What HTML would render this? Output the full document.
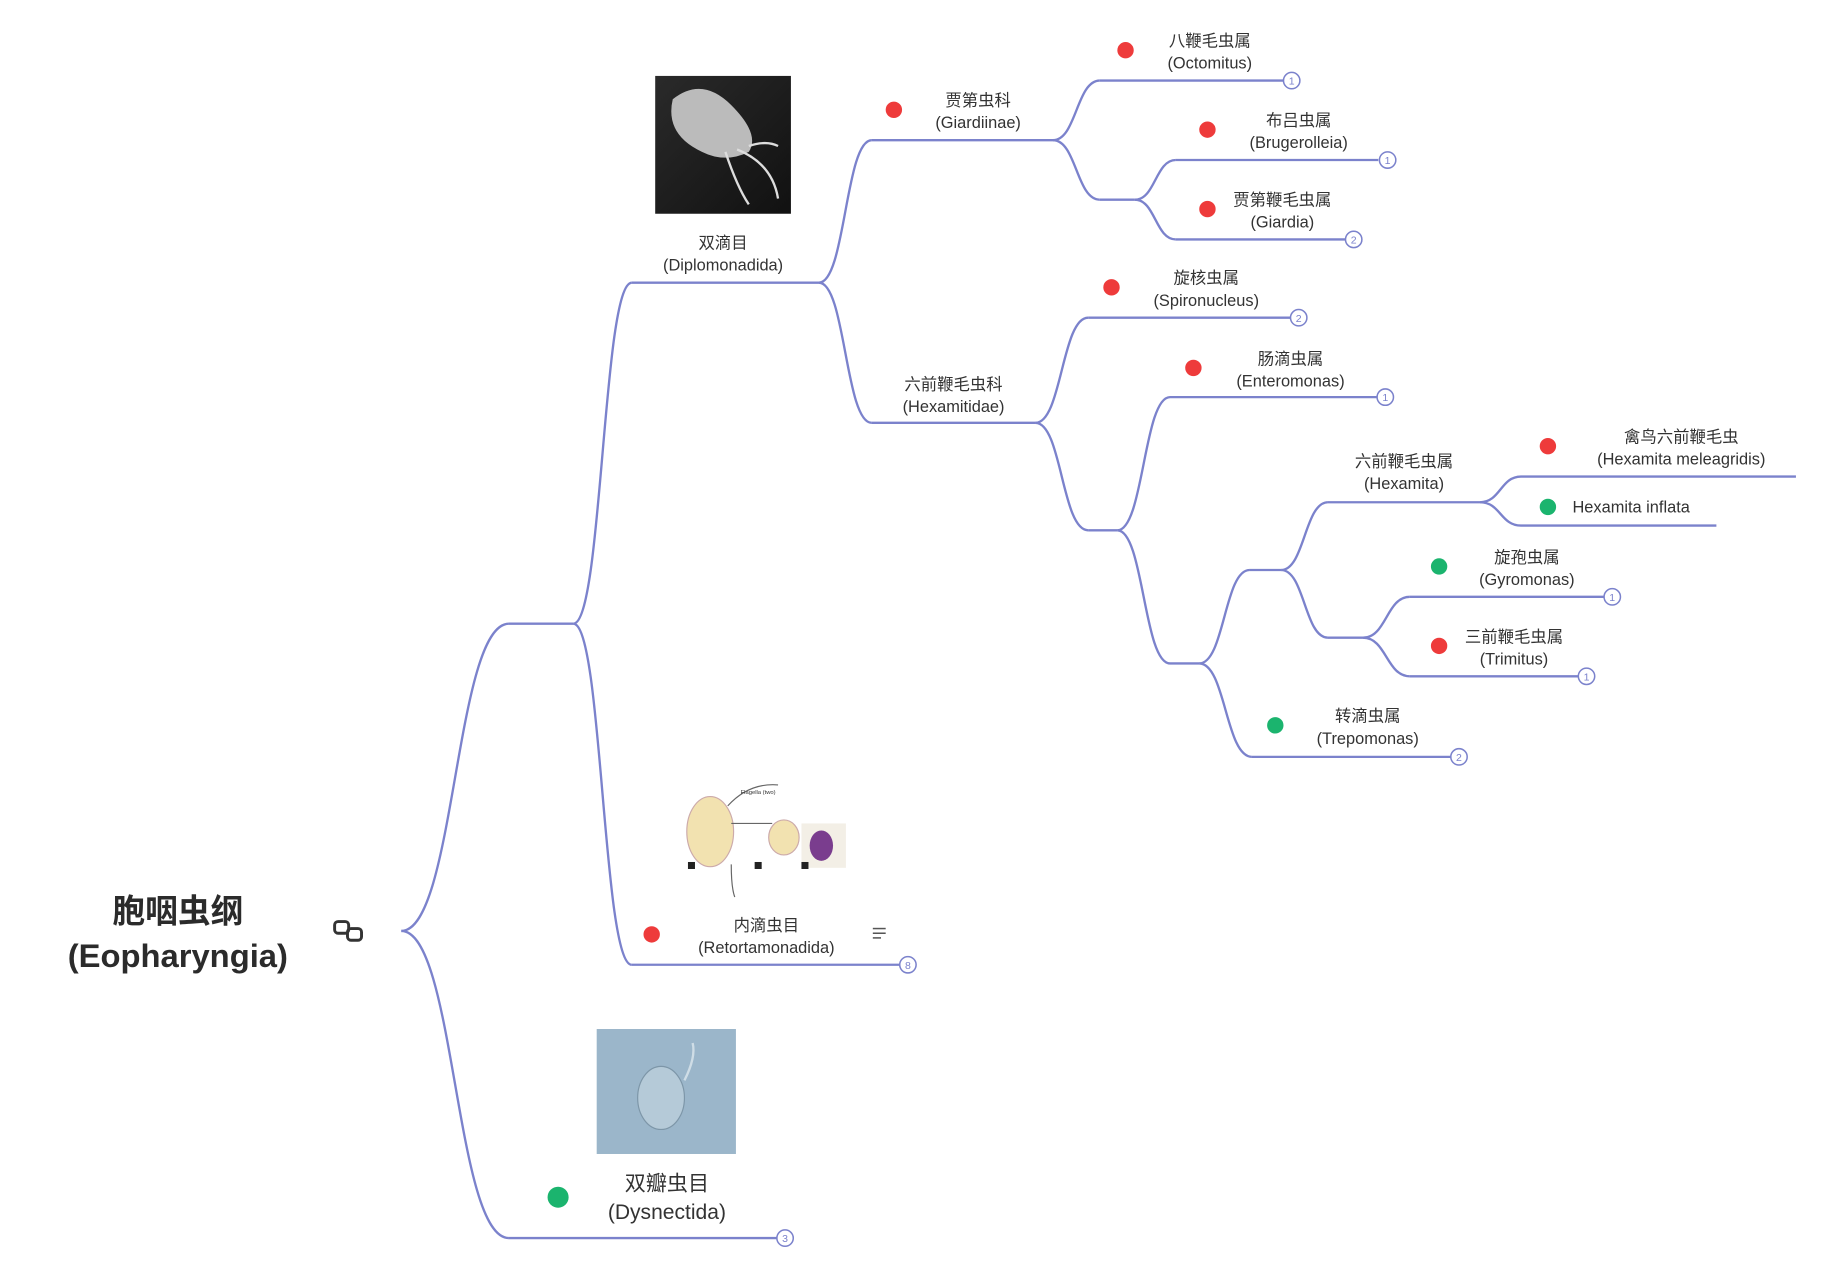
<!DOCTYPE html>
<html><head><meta charset="utf-8">
<style>
html,body{margin:0;padding:0;background:#fff;width:1830px;height:1266px;overflow:hidden}
#wrap{position:absolute;left:0;top:0;width:1560px;height:1080px;transform:scale(1.17,1.168);transform-origin:0 0}
svg text{font-family:"Liberation Sans","Noto Sans CJK SC",sans-serif;fill:#333}
</style></head><body>
<div id="wrap">
<svg id="map" width="1560" height="1080" viewBox="0 0 1560 1080" xmlns="http://www.w3.org/2000/svg">
<defs>
<linearGradient id="g1" x1="0" y1="0" x2="1" y2="1"><stop offset="0" stop-color="#2a2a2a"/><stop offset="1" stop-color="#111"/></linearGradient>
</defs>
<g id="lines" fill="none" stroke="#7b82cc" stroke-width="2"></g>
<g id="imgs">
 <g>
  <rect x="560" y="65" width="116" height="118" fill="url(#g1)"/>
  <path d="M575 85 Q600 65 625 90 Q650 115 640 130 Q620 140 600 130 Q568 115 575 85Z" fill="#bbb"/>
  <path d="M620 130 Q630 160 640 175 M630 128 Q660 140 665 170 M640 125 Q655 120 665 125" stroke="#ddd" stroke-width="2" fill="none"/>
 </g>
 <g>
  <ellipse cx="607" cy="712" rx="20" ry="30" fill="#f2e2b0" stroke="#caa"/>
  <ellipse cx="670" cy="717" rx="13" ry="15" fill="#f2e2b0" stroke="#caa"/>
  <rect x="685" y="705" width="38" height="38" fill="#f3efe6"/>
  <ellipse cx="702" cy="724" rx="10" ry="13" fill="#7a3d8e"/>
  <path d="M622 690 Q640 670 665 672 M625 705 L660 705 M625 740 Q625 760 628 768" stroke="#666" fill="none"/>
  <text x="633" y="680" font-size="5">Flagella (two)</text>
  <rect x="588" y="738" width="6" height="6" fill="#222"/><rect x="645" y="738" width="6" height="6" fill="#222"/><rect x="685" y="738" width="6" height="6" fill="#222"/>
 </g>
 <g>
  <rect x="510" y="881" width="119" height="107" fill="#9bb6ca"/>
  <ellipse cx="565" cy="940" rx="20" ry="27" fill="#b5cad8" stroke="#7d96a8"/>
  <path d="M585 925 Q595 905 592 893" stroke="#cfdde6" stroke-width="2" fill="none"/>
 </g>
</g>
<g id="nodes"></g>
<g>
 <text x="152" y="790" text-anchor="middle" font-size="28" font-weight="bold" style="fill:#2b2b2b">胞咽虫纲</text>
 <text x="152" y="828" text-anchor="middle" font-size="28" font-weight="bold" style="fill:#2b2b2b">(Eopharyngia)</text>
</g>
<g fill="none" stroke="#333" stroke-width="2.5">
 <rect x="286" y="789" width="12" height="10" rx="3"/><rect x="297" y="795" width="12" height="10" rx="3"/>
</g>
<g stroke="#555" stroke-width="1.3">
 <line x1="746" y1="795" x2="757" y2="795"/><line x1="746" y1="799" x2="757" y2="799"/><line x1="746" y1="803" x2="753" y2="803"/>
</g>
</svg>
</div>
<script>
// [x1,y1, x2,y2] curves
var curves=[
 [343,797,435,534],[343,797,435,1060],
 [490,534,540,242],[490,534,540,826],
 [700,242,745,120],[700,242,745,362],
 [900,120,940,69],[900,120,940,171],
 [970,171,1005,137],[970,171,1005,205],
 [885,362,930,272],[885,362,930,454],
 [955,454,1000,340],[955,454,1000,568],
 [1025,568,1068,488],[1025,568,1070,648],
 [1095,488,1135,430],[1095,488,1135,546],
 [1265,430,1300,408],[1265,430,1300,450],
 [1165,546,1205,511],[1165,546,1205,579]
];
// underlines [x1,x2,y]
var segs=[[435,490,534],[540,700,242],[745,900,120],[745,885,362],[940,1097,69],[940,970,171],[1005,1178,137],[1005,1150,205],
 [930,1103,272],[930,955,454],[1000,1177,340],[1000,1025,568],[1068,1095,488],[1135,1265,430],[1300,1535,408],[1300,1467,450],
 [1135,1165,546],[1205,1371,511],[1205,1349,579],[1070,1240,648],[540,769,826],[435,664,1060]];
var lg=document.getElementById('lines');
var NS='http://www.w3.org/2000/svg';
curves.forEach(function(c){
 var p=document.createElementNS(NS,'path');
 var m=(c[0]+c[2])/2;
 p.setAttribute('d','M'+c[0]+' '+c[1]+' C'+m+' '+c[1]+' '+m+' '+c[3]+' '+c[2]+' '+c[3]);
 
 
 lg.appendChild(p);
});
segs.forEach(function(s){
 var l=document.createElementNS(NS,'line');
 l.setAttribute('x1',s[0]);l.setAttribute('x2',s[1]);l.setAttribute('y1',s[2]);l.setAttribute('y2',s[2]);
 
 
 lg.appendChild(l);
});
// labels: [l1,l2,cx,y1,dot(r/g/''),dotx,dotY,count,countx,county,size]
var nodes=[
 ['双滴目','(Diplomonadida)',618,208,'',0,0,'',0,0,14],
 ['贾第虫科','(Giardiinae)',836,86,'r',764,94,'',0,0,14],
 ['八鞭毛虫属','(Octomitus)',1034,35,'r',962,43,'1',1104,69,14],
 ['布吕虫属','(Brugerolleia)',1110,103,'r',1032,111,'1',1186,137,14],
 ['贾第鞭毛虫属','(Giardia)',1096,171,'r',1032,179,'2',1157,205,14],
 ['六前鞭毛虫科','(Hexamitidae)',815,329,'',0,0,'',0,0,14],
 ['旋核虫属','(Spironucleus)',1031,238,'r',950,246,'2',1110,272,14],
 ['肠滴虫属','(Enteromonas)',1103,307,'r',1020,315,'1',1184,340,14],
 ['六前鞭毛虫属','(Hexamita)',1200,395,'',0,0,'',0,0,14],
 ['禽鸟六前鞭毛虫','(Hexamita meleagridis)',1437,374,'r',1323,382,'',0,0,14],
 ['旋孢虫属','(Gyromonas)',1305,477,'g',1230,485,'1',1378,511,14],
 ['三前鞭毛虫属','(Trimitus)',1294,545,'r',1230,553,'1',1356,579,14],
 ['转滴虫属','(Trepomonas)',1169,613,'g',1090,621,'2',1247,648,14],
 ['内滴虫目','(Retortamonadida)',655,792,'r',557,800,'8',776,826,14],
 ['双瓣虫目','(Dysnectida)',570,1013,'g',477,1025,'3',671,1060,18]
];
var ng=document.getElementById('nodes');
nodes.forEach(function(n){
 var g=document.createElementNS(NS,'g');
 
 
 var s=n[10];
 [n[0],n[1]].forEach(function(t,i){
  var tx=document.createElementNS(NS,'text');
  tx.setAttribute('x',n[2]);tx.setAttribute('y',n[3]+i*(s*1.35)+s*0.35);
  tx.setAttribute('text-anchor','middle');tx.setAttribute('font-size',s);
  tx.textContent=t;g.appendChild(tx);
 });
 if(n[4]){
  var d=document.createElementNS(NS,'circle');
  d.setAttribute('cx',n[5]);d.setAttribute('cy',n[6]);d.setAttribute('r',s>14?9:7);
  d.setAttribute('fill',n[4]=='r'?'#ee3b3b':'#1bb46e');
  
  
  g.appendChild(d);
 }
 if(n[7]){
  var c=document.createElementNS(NS,'g');
  
  
  var ci=document.createElementNS(NS,'circle');
  ci.setAttribute('cx',n[8]);ci.setAttribute('cy',n[9]);ci.setAttribute('r',7);
  ci.setAttribute('fill','#fff');ci.setAttribute('stroke','#7b82cc');ci.setAttribute('stroke-width','1.3');
  var ct=document.createElementNS(NS,'text');
  ct.setAttribute('x',n[8]);ct.setAttribute('y',n[9]+3.5);ct.setAttribute('text-anchor','middle');
  ct.setAttribute('font-size','9');ct.setAttribute('style','fill:#7b82cc');ct.textContent=n[7];
  c.appendChild(ci);c.appendChild(ct);g.appendChild(c);
 }
 ng.appendChild(g);
});
var hi=document.createElementNS(NS,'g');


hi.innerHTML='<circle cx="1323" cy="434" r="7" fill="#1bb46e"></circle><text x="1344" y="439" font-size="14">Hexamita inflata</text>';
ng.appendChild(hi);
</script>
</body></html>
